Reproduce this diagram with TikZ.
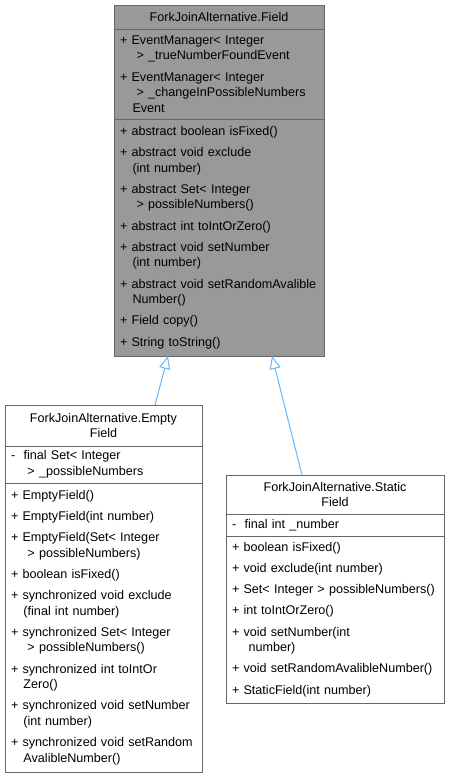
\documentclass[tikz,border=0pt]{standalone}
\usepackage{fontspec}
\newfontfamily\umlsans{Liberation Sans}
\usetikzlibrary{positioning,arrows.meta}
\definecolor{boxline}{HTML}{666666}
\definecolor{basefill}{HTML}{999999}
\definecolor{inherit}{HTML}{63B8FF}
\newcommand{\classfont}{\umlsans\fontsize{12.6pt}{15.6pt}\selectfont}
\newcommand{\wrapin}{\hspace*{12.5pt}}
\newcommand{\wrapgt}{\hspace*{16.5pt}}
\newcommand{\itemgap}{\\[5.6pt]}
\tikzset{
  part/.style={draw=boxline, line width=1pt, outer sep=0pt, inner xsep=6pt,
    inner ysep=0pt, font=\classfont, align=left},
  titlepart/.style={part, align=center},
  basepart/.style={fill=basefill},
  isa/.style={draw=inherit, line width=1pt,
    -{Triangle[open, length=13pt, width=11pt]}}
}
\begin{document}
\begin{tikzpicture}[x=1pt, y=-1pt]
  \useasboundingbox (0,0) rectangle (450,779);

  % base class
  \node[titlepart, basepart, text width=198pt, minimum height=24pt, anchor=north west]
    (fieldT) at (114,5) {ForkJoinAlternative.Field};
  \node[part, basepart, text width=198pt, minimum height=90pt, below=0pt of fieldT] (fieldA)
    {+ EventManager< Integer\\ \wrapgt> \_trueNumberFoundEvent\itemgap
     + EventManager< Integer\\ \wrapgt> \_changeInPossibleNumbers\\ \wrapin Event};
  \node[part, basepart, text width=198pt, minimum height=237pt, below=0pt of fieldA] (fieldO)
    {+ abstract boolean isFixed()\itemgap
     + abstract void exclude\\ \wrapin(int number)\itemgap
     + abstract Set< Integer\\ \wrapgt> possibleNumbers()\itemgap
     + abstract int toIntOrZero()\itemgap
     + abstract void setNumber\\ \wrapin(int number)\itemgap
     + abstract void setRandomAvalible\\ \wrapin Number()\itemgap
     + Field copy()\itemgap
     + String toString()};

  % EmptyField
  \node[titlepart, text width=185pt, minimum height=41pt, anchor=north west]
    (emptyT) at (5,405) {ForkJoinAlternative.Empty\\Field};
  \node[part, text width=185pt, minimum height=37pt, below=0pt of emptyT] (emptyA)
    {-~ final Set< Integer\\ \wrapgt> \_possibleNumbers};
  \node[part, text width=185pt, minimum height=289pt, below=0pt of emptyA] (emptyO)
    {+ EmptyField()\itemgap
     + EmptyField(int number)\itemgap
     + EmptyField(Set< Integer\\ \wrapgt> possibleNumbers)\itemgap
     + boolean isFixed()\itemgap
     + synchronized void exclude\\ \wrapin(final int number)\itemgap
     + synchronized Set< Integer\\ \wrapgt> possibleNumbers()\itemgap
     + synchronized int toIntOr\\ \wrapin Zero()\itemgap
     + synchronized void setNumber\\ \wrapin(int number)\itemgap
     + synchronized void setRandom\\ \wrapin AvalibleNumber()};

  % StaticField
  \node[titlepart, text width=206pt, minimum height=39pt, anchor=north west]
    (staticT) at (226,475) {ForkJoinAlternative.Static\\Field};
  \node[part, text width=206pt, minimum height=22pt, below=0pt of staticT] (staticA)
    {-~ final int \_number};
  \node[part, text width=206pt, minimum height=167pt, below=0pt of staticA] (staticO)
    {+ boolean isFixed()\itemgap
     + void exclude(int number)\itemgap
     + Set< Integer > possibleNumbers()\itemgap
     + int toIntOrZero()\itemgap
     + void setNumber(int\\ \wrapgt number)\itemgap
     + void setRandomAvalibleNumber()\itemgap
     + StaticField(int number)};

  % inheritance
  \draw[isa] ([xshift=51.5pt]emptyT.north) -- ([xshift=-51pt]fieldO.south);
  \draw[isa] ([xshift=-33pt]staticT.north) -- ([xshift=53pt]fieldO.south);
\end{tikzpicture}
\end{document}
